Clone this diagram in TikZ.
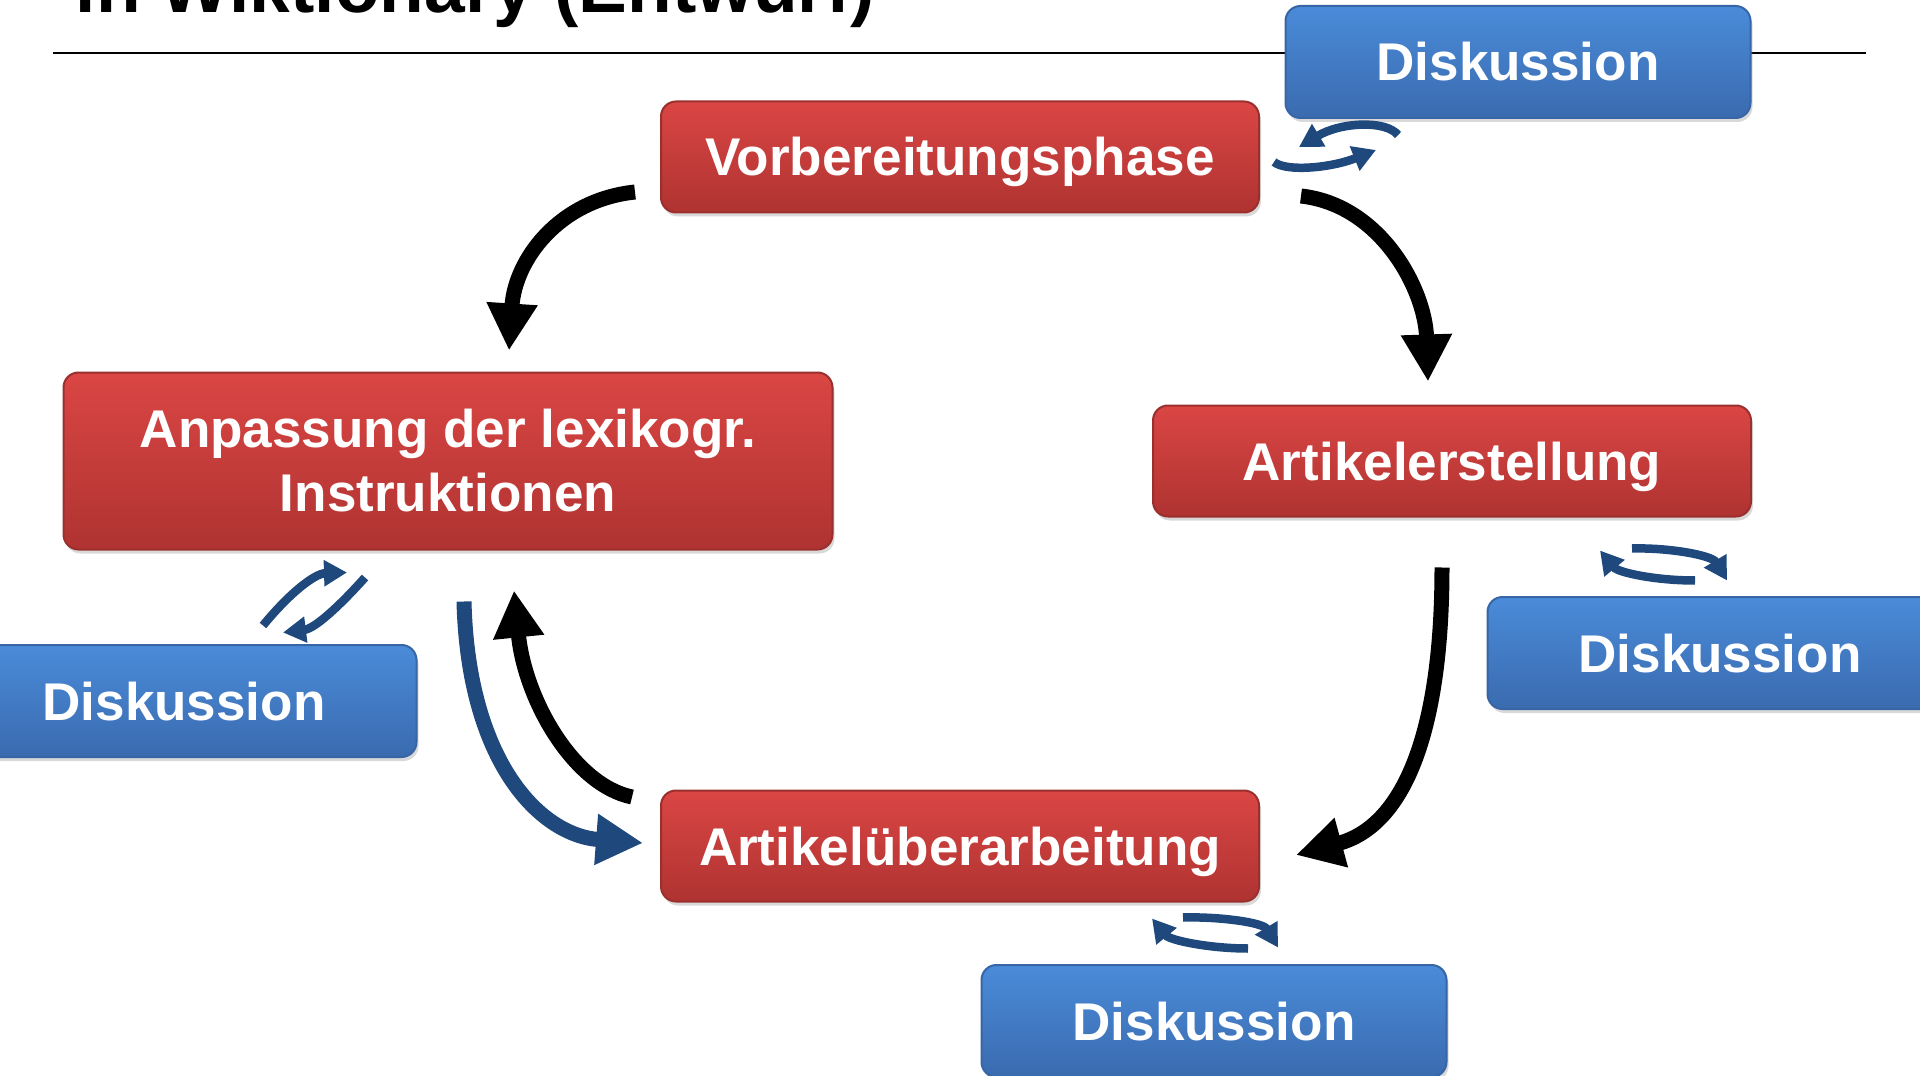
\documentclass[tikz,border=0pt]{standalone}
\usepackage{fontspec}
\setmainfont{Liberation Sans}
\usetikzlibrary{arrows.meta,calc,shadows}
\definecolor{redtop}{HTML}{DA4644}
\definecolor{redbot}{HTML}{AF3331}
\definecolor{redline}{HTML}{9A302E}
\definecolor{bluetop}{HTML}{4A8BD9}
\definecolor{bluebot}{HTML}{3A6BAF}
\definecolor{blueline}{HTML}{3765A6}
\definecolor{arrowblue}{HTML}{1F497D}
\tikzset{
  box/.style={rounded corners=1.5mm, inner sep=0pt, text=white, align=center,
    font=\fontsize{15.1}{18.2}\selectfont\bfseries, line width=0.2mm,
    drop shadow={opacity=0.3,shadow xshift=0.2mm,shadow yshift=-0.4mm}},
  redbox/.style={box, draw=redline, top color=redtop, bottom color=redbot,
    minimum width=59.8mm, minimum height=11.1mm},
  bluebox/.style={box, draw=blueline, top color=bluetop, bottom color=bluebot,
    minimum width=46.5mm, minimum height=11.2mm},
  oneline/.style={text height=3.8mm, text depth=0pt},
  bigarrow/.style={line width=1.5mm, -{Triangle[length=4.7mm,width=4.8mm]}},
  smallarrow/.style={arrowblue, line width=0.85mm, -{Triangle[length=2.3mm,width=2.5mm]}},
}
\begin{document}
\begin{tikzpicture}[x=0.1mm,y=-0.1mm]
%\draw[gray,very thin] (0,0) grid[step=100] (1920,1076);
\useasboundingbox (0,0) rectangle (1920,1076);
\clip (0,0) rectangle (1920,1076);
\node[anchor=base west,inner sep=0pt,font=\fontsize{20.8}{25}\selectfont\bfseries] (title) at (75,13) {in Wiktionary (Entwurf)};
\draw[line width=0.2mm] (53,53) -- (1866,53);

\node[redbox,oneline] (vor) at (960,157) {Vorbereitungsphase};
\node[redbox,minimum width=76.9mm,minimum height=17.7mm] (anp) at (448,461) {Anpassung der lexikogr.\\Instruktionen};
\node[redbox,oneline] (erst) at (1452,461) {Artikelerstellung};
\node[redbox,oneline] (ueber) at (960,846) {Artikelüberarbeitung};

\node[bluebox,oneline] (disk1) at (1518,62) {Diskussion};
\node[bluebox,oneline] (disk2) at (184,701) {Diskussion};
\node[bluebox,oneline] (disk3) at (1720,653) {Diskussion};
\node[bluebox,oneline] (disk4) at (1214,1021) {Diskussion};

% cycle
\draw[bigarrow] ($(vor.west)+(-25,35)$) .. controls +(-76,8) and +(6,-91) .. ($(anp.north)+(61,-21)$);
\draw[bigarrow] ($(vor.east)+(41,39)$) .. controls +(80,9) and +(-3,-92) .. ($(erst.north)+(-24,-23)$);
\draw[bigarrow] ($(erst.south)+(-10,50)$) .. controls +(0,160) and +(110,-30) .. ($(ueber.east)+(36,9)$);
\draw[bigarrow] ($(ueber.west)+(-28,-49)$) .. controls +(-58,-12) and +(11,110) .. ($(anp.south)+(66,40)$);
\draw[bigarrow,arrowblue] ($(anp.south)+(16,51)$) .. controls +(4,159) and +(-104,-8) .. ($(ueber.west)+(-17,-3)$);

% discussions
\draw[smallarrow] ($(vor.east)+(138,-22)$) .. controls +(-12,-15) and +(42,-25) .. ($(vor.east)+(39,-10)$);
\draw[smallarrow] ($(vor.east)+(14,5)$) .. controls +(12,10) and +(-45,18) .. ($(vor.east)+(116,-7)$);
\draw[smallarrow] ($(anp.south)+(-185,75)$) .. controls +(27,-33) and +(-32,1) .. ($(anp.south)+(-101,22)$);
\draw[smallarrow] ($(anp.south)+(-83,27)$) .. controls +(-25,28) and +(32,-4) .. ($(anp.south)+(-165,82)$);
\draw[smallarrow] ($(erst.south)+(180,31)$) .. controls +(38,-1) and +(-15,-25) .. ($(erst.south)+(275,63)$);
\draw[smallarrow] ($(erst.south)+(243,63)$) .. controls +(-40,0) and +(18,22) .. ($(erst.south)+(148,33)$);
\draw[smallarrow] ($(ueber.south)+(223,15)$) .. controls +(37,-1) and +(-15,-25) .. ($(ueber.south)+(318,45)$);
\draw[smallarrow] ($(ueber.south)+(288,46)$) .. controls +(-38,0) and +(18,22) .. ($(ueber.south)+(192,16)$);
\end{tikzpicture}
\end{document}
